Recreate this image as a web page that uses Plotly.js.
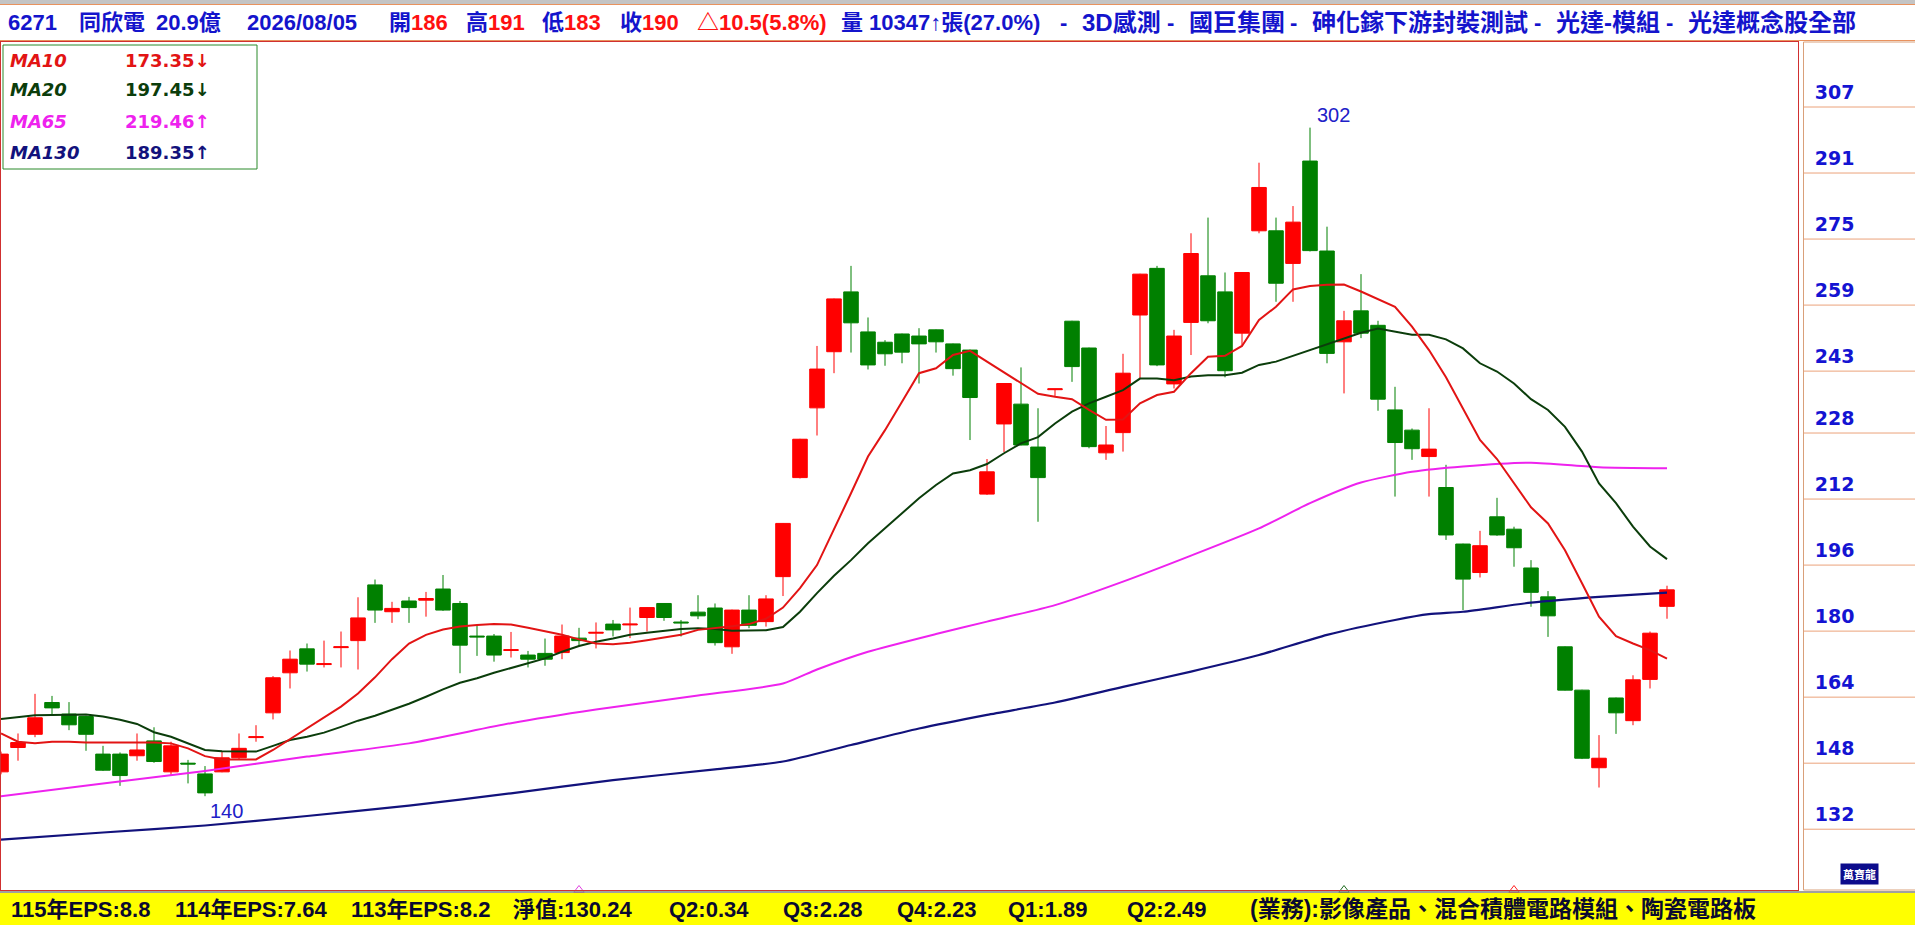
<!DOCTYPE html>
<html><head><meta charset="utf-8">
<script src="https://cdn.plot.ly/plotly-3.0.1.min.js"></script>
<style>html,body{margin:0;padding:0;background:#fff;overflow:hidden}#chart{width:1915px;height:925px}</style>
</head><body><div id="chart"></div>
<script>
// ---------- data ----------
const openP = [145.9,151.8,155.0,162.7,159.9,159.3,150.2,150.2,149.8,153.4,
145.9,148.0,145.4,145.9,149.3,154.2,160.2,169.9,175.7,171.9,
176.0,177.7,191.2,184.7,187.3,187.5,190.2,186.7,178.8,178.8,
175.3,174.2,174.6,174.8,178.3,179.5,181.7,181.5,183.3,186.7,
182.2,184.6,185.6,176.2,185.1,182.3,193.2,217.2,234.1,247.7,
262.2,252.5,250.0,252.0,251.5,253.0,249.6,248.1,213.2,230.2,
235.0,224.6,238.5,255.1,248.6,223.2,228.1,256.6,267.9,239.9,
254.8,266.1,262.2,252.2,277.0,277.0,269.1,293.9,272.1,250.1,
257.6,254.1,233.6,228.7,222.3,214.8,201.1,194.2,207.7,204.7,
195.3,188.3,176.2,165.7,146.9,163.8,158.3,168.3,186];
const highP = [150.8,155.2,164.8,164.3,162.8,159.5,152.2,150.6,155.2,156.7,
153.2,148.8,147.3,150.8,155.2,157.2,169.1,175.3,177.0,177.7,
179.9,188.2,192.5,187.1,188.3,189.5,193.6,187.3,181.5,179.3,
179.8,175.2,178.2,181.6,180.8,182.1,182.7,185.7,185.8,186.8,
182.7,188.7,186.7,185.2,188.7,188.7,206.2,226.6,249.1,260.6,
268.5,256.0,250.5,252.1,253.4,253.1,249.7,248.2,221.7,240.1,
243.9,234.0,238.7,255.2,248.7,229.7,247.2,266.6,268.5,253.0,
276.4,280.2,266.9,267.0,293.5,280.2,283.0,302.0,278.0,257.6,
266.5,255.2,239.2,229.1,234.0,220.3,201.2,204.3,212.3,205.3,
197.2,189.7,176.3,165.8,154.8,163.9,169.3,179.9,191];
const lowP = [145.3,148.6,154.3,159.9,156.0,151.0,146.1,142.5,148.6,148.1,
145.1,143.1,140.0,145.8,148.8,153.2,158.6,166.1,170.2,171.2,
171.2,170.7,182.0,182.0,182.0,183.5,184.9,169.8,174.0,172.6,
173.6,171.2,171.6,173.2,176.2,175.8,178.7,178.3,179.9,182.5,
178.7,182.9,176.5,174.5,180.7,181.1,188.5,217.0,227.4,242.5,
247.5,243.4,244.3,244.9,240.0,247.5,241.9,226.3,213.0,223.4,
225.0,206.5,236.8,240.4,224.3,221.5,223.5,241.3,244.2,238.8,
246.9,254.6,241.5,249.3,276.4,259.8,259.8,272.0,244.9,237.6,
251.0,233.4,212.6,221.5,212.6,202.1,185.1,193.0,203.1,195.6,
185.9,178.6,165.6,149.0,142.1,155.1,157.2,166.1,183];
const closeP = [150.2,153.0,159.0,161.4,157.3,155.0,146.3,145.0,151.2,148.4,
152.2,147.8,140.8,149.3,151.6,154.4,168.7,173.2,172.0,172.1,
176.2,183.2,185.1,185.5,185.7,187.9,185.1,176.6,178.6,174.2,
175.5,173.2,173.2,178.8,177.7,179.7,180.3,181.7,185.7,183.3,
182.0,183.7,177.2,185.1,181.4,187.8,206.1,226.5,243.5,260.5,
254.7,244.5,247.2,247.6,249.6,250.1,243.6,236.6,218.6,240.0,
225.1,217.2,238.7,244.1,224.7,225.1,242.5,266.5,244.5,251.5,
271.5,255.2,243.1,266.9,287.5,264.3,279.1,272.2,247.3,255.2,
252.2,236.2,225.7,224.2,224.1,203.3,192.6,200.7,203.3,200.2,
189.4,183.7,165.7,149.2,149.2,160.2,168.2,179.5,190];
const ma10 = [155.2,153.2,152.8,153.2,153.2,153.0,153.0,153.0,153.0,153.0,
152.8,151.6,149.7,148.9,148.9,148.9,151.2,153.8,156.4,159.1,
161.7,164.9,168.8,173.2,177.0,179.1,180.4,181.1,181.5,181.7,
181.6,180.8,179.9,179.1,178.0,177.0,176.8,177.2,177.8,178.5,
179.1,180.3,180.7,181.2,181.7,183.0,185.7,190.4,196.0,204.5,
213.4,222.3,228.7,235.6,242.5,243.7,246.9,247.9,245.3,242.9,
240.2,237.5,236.8,236.2,233.6,231.2,231.3,235.2,237.2,238.0,
242.5,246.5,246.7,249.1,255.4,258.6,262.8,263.6,263.9,264.0,
262.3,260.4,258.6,253.8,248.1,241.5,233.8,226.3,221.7,215.8,
210.0,206.1,199.6,191.6,183.5,178.8,177.0,175.4,173.35];
const ma20 = [158.7,159.2,159.6,159.7,159.8,159.8,159.3,158.5,157.5,155.5,
154.4,152.8,151.2,150.9,150.8,150.8,152.2,153.6,154.4,155.4,
156.8,158.3,159.5,160.9,162.4,164.1,165.9,167.5,168.6,169.9,
171.0,172.2,173.4,175.0,176.4,177.4,178.2,179.1,179.6,180.0,
180.5,180.7,180.5,180.1,180.1,180.2,181.0,184.7,189.2,193.4,
197.2,201.3,204.9,208.5,212.2,215.4,218.2,219.0,220.5,223.1,
225.5,227.0,230.3,233.2,235.2,236.8,238.4,241.2,241.2,240.8,
241.7,242.0,242.0,242.6,244.5,245.3,246.7,248.1,249.5,251.0,
252.3,253.3,252.6,251.8,251.8,250.7,248.5,244.9,242.9,240.0,
236.2,233.6,229.5,223.5,215.8,211.0,205.3,200.5,197.45];
const ma65Idx = [0,6,12,18,24,30,35,41,46,48,51,55,58,62,66,70,74,77,80,83,86,90,94,98];
const ma65 = [140.0,143.1,146.1,149.6,152.8,157.7,161.0,164.4,167.3,170.7,175.0,179.3,182.3,186.3,192.0,198.3,204.9,211.0,216.0,218.6,219.9,220.8,219.7,219.46];
const ma130Idx = [0,6,12,18,24,30,36,42,46,50,54,58,62,66,70,74,78,82,84,86,90,94,98];
const ma130 = [129.5,131.2,132.9,135.2,137.7,140.7,143.9,146.5,148.4,152.4,156.4,159.7,162.7,166.5,170.2,174.2,179.1,182.7,184.1,184.7,186.9,188.3,189.35];
const yTickLabels = ['307','291','275','259','243','228','212','196','180','164','148','132'];
const maNames = ['MA10','MA20','MA65','MA130'];
const maLast = [173.35,197.45,219.46,189.35];
const maDir = ['↓','↓','↑','↑'];
const stockCode = '6271', stockName = '同欣電', capital = '20.9億', tradeDate = '2026/08/05';
const volume = '10347', volRatio = '27.0%';
const concepts = ['3D感測','國巨集團','砷化鎵下游封裝測試','光達-模組','光達概念股全部'];
const footerItems = ['115年EPS:8.8','114年EPS:7.64','113年EPS:8.2','淨值:130.24','Q2:0.34','Q3:2.28','Q4:2.23','Q1:1.89','Q2:2.49','(業務):影像產品、混合積體電路模組、陶瓷電路板'];
const eventIdx = [34, 79, 89];

// ---------- styles / layout helpers ----------
const idx = openP.map((_, i) => i);
const UP = '#ff0000', DOWN = '#008000';
const maColors = ['#e21414', '#0b3d0b', '#ee22ee', '#12127c'];
const BLUE = '#1414cc', RED = '#ff1010';
const PW = 1797;                       // plot-area width in px
const PX = p => (p - 1) / PW;          // page px -> paper x
const PY = p => (890 - p) / 848;       // page px -> paper y
const FAM = 'Liberation Sans, Noto Sans CJK TC, sans-serif';
const titleFont = {family: FAM, size: 22, weight: 'bold'};
const yMin = 117.27, yMax = 322.75;

const traces = [
  {type: 'candlestick', x: idx, open: openP, high: highP, low: lowP, close: closeP,
   increasing: {line: {color: UP, width: 1}, fillcolor: UP},
   decreasing: {line: {color: DOWN, width: 1}, fillcolor: DOWN},
   whiskerwidth: 0, hoverinfo: 'skip', showlegend: false},
  {type: 'scatter', mode: 'lines', x: ma130Idx, y: ma130, line: {color: maColors[3], width: 2.2, shape: 'spline', smoothing: 0.6}, hoverinfo: 'skip', showlegend: false},
  {type: 'scatter', mode: 'lines', x: ma65Idx, y: ma65, line: {color: maColors[2], width: 2, shape: 'spline', smoothing: 0.6}, hoverinfo: 'skip', showlegend: false},
  {type: 'scatter', mode: 'lines', x: idx, y: ma20, line: {color: maColors[1], width: 2}, hoverinfo: 'skip', showlegend: false},
  {type: 'scatter', mode: 'lines', x: idx, y: ma10, line: {color: maColors[0], width: 2}, hoverinfo: 'skip', showlegend: false},
  {type: 'scatter', mode: 'markers', x: eventIdx, y: eventIdx.map(() => yMin), cliponaxis: false,
   marker: {symbol: 'triangle-up-open', size: 9, color: ['#e040e0', '#1f6b1f', '#ff2020'], line: {width: 1}},
   hoverinfo: 'skip', showlegend: false}
];

const annotations = [];
// header
const n = closeP.length - 1;
const chg = closeP[n] - closeP[n - 1];
const pct = chg / closeP[n - 1] * 100;
const sp = (t, c) => `<span style="color:${c}">${t}</span>`;
const headerPieces = [
  [sp(stockCode, BLUE), 6], [sp(stockName, BLUE), 77], [sp(capital, BLUE), 154], [sp(tradeDate, BLUE), 245],
  [sp('開', BLUE) + sp(openP[n], RED), 387], [sp('高', BLUE) + sp(highP[n], RED), 464],
  [sp('低', BLUE) + sp(lowP[n], RED), 540], [sp('收', BLUE) + sp(closeP[n], RED), 618],
  [sp('△' + chg.toFixed(1) + '(' + pct.toFixed(1) + '%)', RED), 695],
  [sp('量 ' + volume + '↑張(' + volRatio + ')', BLUE), 839]
];
headerPieces.forEach(([t, x]) => annotations.push({xref: 'paper', yref: 'paper', x: PX(x), y: PY(23), xanchor: 'left', yanchor: 'middle',
  text: t, showarrow: false, font: titleFont}));
const conceptPos = [1080, 1187, 1310, 1554, 1686];
concepts.forEach((c, k) => {
  annotations.push({xref: 'paper', yref: 'paper', x: PX(conceptPos[k] - 17), y: PY(23), xanchor: 'center', yanchor: 'middle',
    text: '-', showarrow: false, font: Object.assign({}, titleFont, {color: BLUE})});
  annotations.push({xref: 'paper', yref: 'paper', x: PX(conceptPos[k]), y: PY(23), xanchor: 'left', yanchor: 'middle',
    text: c, showarrow: false, font: Object.assign({}, titleFont, {size: 24, color: BLUE})});
});
// footer
const footerPos = [9, 173, 349, 511, 667, 781, 895, 1006, 1125, 1248];
footerItems.forEach((t, k) => annotations.push({xref: 'paper', yref: 'paper', x: PX(footerPos[k]), y: PY(909), xanchor: 'left', yanchor: 'middle',
  text: t, showarrow: false, font: Object.assign({}, titleFont, {color: '#0a0a30', size: k === footerItems.length - 1 ? 23 : 22})}));
// legend box texts
const rowY = [61, 90, 122, 152];
maNames.forEach((nm, k) => {
  annotations.push({xref: 'paper', yref: 'paper', x: PX(8), y: PY(rowY[k]), xanchor: 'left', yanchor: 'middle', text: nm, showarrow: false,
    font: {family: 'DejaVu Sans, sans-serif', size: 18, style: 'italic', weight: 'bold', color: maColors[k]}});
  annotations.push({xref: 'paper', yref: 'paper', x: PX(123), y: PY(rowY[k]), xanchor: 'left', yanchor: 'middle', text: maLast[k].toFixed(2) + maDir[k], showarrow: false,
    font: {family: 'DejaVu Sans, sans-serif', size: 18, weight: 'bold', color: maColors[k]}});
});
// high / low labels
const maxI = highP.indexOf(Math.max(...highP));
const minI = lowP.indexOf(Math.min(...lowP));
annotations.push({x: maxI, y: highP[maxI], xanchor: 'left', yanchor: 'bottom', xshift: 5, yshift: 0, text: String(Math.round(highP[maxI])), showarrow: false,
  font: {family: 'Liberation Sans, sans-serif', size: 20, color: '#2020c8'}});
annotations.push({x: minI, y: lowP[minI], xanchor: 'left', yanchor: 'top', xshift: 3, yshift: -2, text: String(Math.round(lowP[minI])), showarrow: false,
  font: {family: 'Liberation Sans, sans-serif', size: 20, color: '#2020c8'}});
// logo
annotations.push({xref: 'paper', yref: 'paper', x: PX(1859), y: PY(874), xanchor: 'center', yanchor: 'middle', text: '萬寶龍', showarrow: false,
  bgcolor: '#0c0c8c', borderpad: 2, font: {family: 'Noto Sans CJK TC, sans-serif', size: 11, color: '#ffffff', weight: 'bold'}});

const yTickVals = yTickLabels.map(Number);
const shapes = [
  {type: 'rect', xref: 'paper', yref: 'paper', x0: PX(0), x1: PX(1916), y0: PY(0), y1: PY(4), fillcolor: '#c4c4c4', line: {width: 0}},
  {type: 'line', xref: 'paper', yref: 'paper', x0: PX(0), x1: PX(1916), y0: PY(4.5), y1: PY(4.5), line: {color: '#e8925e', width: 1}},
  {type: 'line', xref: 'paper', yref: 'paper', x0: PX(0), x1: PX(1916), y0: PY(40.5), y1: PY(40.5), line: {color: '#e8925e', width: 1}},
  {type: 'rect', xref: 'paper', yref: 'paper', x0: PX(0), x1: PX(1916), y0: PY(893), y1: PY(926), fillcolor: '#ffff00', line: {width: 0}},
  {type: 'line', xref: 'paper', yref: 'paper', x0: PX(0), x1: PX(1916), y0: PY(892), y1: PY(892), line: {color: '#808080', width: 1.5}},
  {type: 'rect', xref: 'paper', yref: 'paper', x0: PX(1803.5), x1: PX(1917), y0: 0, y1: 1, fillcolor: 'rgba(0,0,0,0)', line: {color: '#d9a07a', width: 1}},
  {type: 'rect', xref: 'paper', yref: 'paper', x0: PX(3), x1: PX(257), y0: PY(45), y1: PY(169), fillcolor: '#ffffff', line: {color: '#2a8a2a', width: 1}}
];
yTickVals.forEach(v => shapes.push({type: 'line', xref: 'paper', yref: 'y', x0: PX(1804), x1: PX(1917), y0: v, y1: v,
  line: {color: '#eba27a', width: 1}}));

const layout = {
  width: 1915, height: 925, margin: {l: 1, r: 117, t: 42, b: 35},
  paper_bgcolor: '#ffffff', plot_bgcolor: '#ffffff', hovermode: false, showlegend: false, boxgap: 0.1, boxgroupgap: 0.05,
  xaxis: {range: [0, 1797 / 17], showgrid: false, zeroline: false, showticklabels: false, ticks: '',
    showline: true, mirror: true, linecolor: '#d03030', linewidth: 1, rangeslider: {visible: false}, fixedrange: true},
  yaxis: {range: [yMin, yMax], side: 'right', showgrid: false, zeroline: false, ticks: '',
    tickmode: 'array', tickvals: yTickVals, ticktext: yTickLabels, ticklabelstandoff: 12, ticklabelshift: -15,
    tickfont: {family: 'DejaVu Sans, sans-serif', size: 19, weight: 'bold', color: '#1414d2'},
    showline: true, mirror: true, linecolor: '#d03030', linewidth: 1, fixedrange: true},
  shapes: shapes, annotations: annotations
};
Plotly.newPlot('chart', traces, layout, {staticPlot: true, displayModeBar: false});
</script></body></html>
